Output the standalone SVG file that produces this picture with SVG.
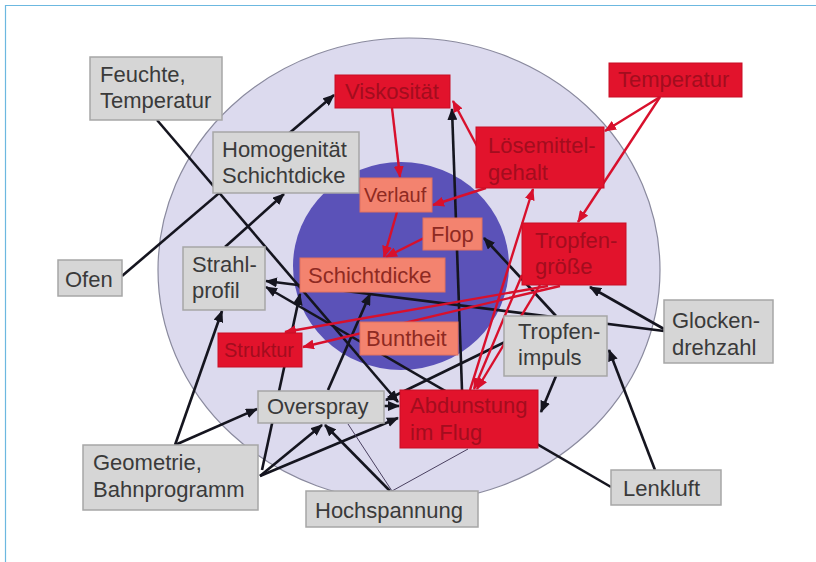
<svg xmlns="http://www.w3.org/2000/svg" width="816" height="562" viewBox="0 0 816 562">
<defs>
<style>
.t{font-family:"Liberation Sans",Arial,sans-serif;font-size:22px}
.g rect{fill:#d6d6d6;stroke:#a6a6a6;stroke-width:1.5}
.g text{fill:#3a3a3a}
.r rect{fill:#e2132c;stroke:#c80f24;stroke-width:1}
.r text{fill:#a30d1e}
.s rect{fill:#f3836f;stroke:#e07060;stroke-width:1}
.s text{fill:#8e2a22}
.b{stroke:#15151f;stroke-width:2.6;fill:none;marker-end:url(#ab)}
.th{stroke:#4a4060;stroke-width:1;fill:none}
.rd{stroke:#d8102c;stroke-width:2.4;fill:none;marker-end:url(#ar)}
</style>
<marker id="ab" viewBox="0 0 12 10" refX="11" refY="5" markerWidth="12" markerHeight="10" markerUnits="userSpaceOnUse" orient="auto"><path d="M0,0 L12,5 L0,10 z" fill="#15151f"/></marker>
<marker id="ar" viewBox="0 0 12 10" refX="11" refY="5" markerWidth="12" markerHeight="10" markerUnits="userSpaceOnUse" orient="auto"><path d="M0,0 L12,5 L0,10 z" fill="#d8102c"/></marker>
</defs>
<rect width="816" height="562" fill="#ffffff"/>
<path d="M5.5,562 V5.5 H816" fill="none" stroke="#6cb8e0" stroke-width="1.2"/>
<ellipse cx="409" cy="270" rx="251" ry="232" fill="#dcdaee" stroke="#8a8a9e" stroke-width="1.2"/>
<ellipse cx="401" cy="266" rx="108" ry="104" fill="#5b52b8"/>

<g id="connectors">
<path class="b" d="M122,276 L334,95"/>
<path class="b" d="M225,247 L284,194"/>
<path class="b" d="M157,120 L398,402"/>
<path class="b" d="M664,331 L266,281"/>
<path class="b" d="M664,329 L590,287"/>
<path class="b" d="M655,470 L609,350"/>
<path class="b" d="M611,487 L266,287"/>
<path class="b" d="M556,376 L541,412"/>
<path class="b" d="M556,316 L484,238"/>
<path class="b" d="M505,342 L386,400"/>
<path class="b" d="M462,390 L452,109"/>
<path class="b" d="M175,445 L222,311"/>
<path class="b" d="M175,445 L257,409"/>
<path class="b" d="M260,476 L322,425"/>
<path class="b" d="M260,476 L398,418"/>
<path class="b" d="M262,470 L300,294"/>
<path class="b" d="M328,390 L370,294"/>
<path class="b" d="M390,491 L325,425"/>
<path class="b" d="M384,406 L399,406"/>
<path class="th" d="M392,491 L468,449"/>
<path class="th" d="M392,491 L348,424"/>
<path class="rd" d="M392,108 L400,177"/>
<path class="rd" d="M478,148 L453,101"/>
<path class="rd" d="M660,97 L605,131"/>
<path class="rd" d="M660,97 L578,222"/>
<path class="rd" d="M486,188 L433,205"/>
<path class="rd" d="M397,212 L384,257"/>
<path class="rd" d="M424,238 L386,257"/>
<path class="rd" d="M470,390 L533,189"/>
<path class="rd" d="M540,285 L477,389"/>
<path class="rd" d="M522,275 L474,389"/>
<path class="rd" d="M548,286 L285,332"/>
<path class="rd" d="M560,286 L303,347"/>
</g>

<g id="n-feuchte" class="g t"><rect x="90" y="57" width="132" height="63"/><text x="100" y="82">Feuchte,</text><text x="100" y="108">Temperatur</text></g>
<g id="n-homogen" class="g t"><rect x="213" y="132" width="146" height="61"/><text x="222" y="157">Homogenität</text><text x="222" y="183">Schichtdicke</text></g>
<g id="n-ofen" class="g t"><rect x="58" y="260" width="64" height="36"/><text x="65" y="287">Ofen</text></g>
<g id="n-strahl" class="g t"><rect x="183" y="247" width="82" height="63"/><text x="192" y="272">Strahl-</text><text x="192" y="298">profil</text></g>
<g id="n-impuls" class="g t"><rect x="504" y="316" width="103" height="60"/><text x="518" y="339">Tropfen-</text><text x="518" y="365">impuls</text></g>
<g id="n-glocke" class="g t"><rect x="664" y="300" width="109" height="63"/><text x="672" y="328">Glocken-</text><text x="672" y="355">drehzahl</text></g>
<g id="n-lenkluft" class="g t"><rect x="611" y="470" width="110" height="35"/><text x="623" y="496">Lenkluft</text></g>
<g id="n-overspray" class="g t"><rect x="258" y="391" width="126" height="32"/><text x="267" y="414">Overspray</text></g>
<g id="n-hochsp" class="g t"><rect x="306" y="491" width="172" height="36"/><text x="315" y="518">Hochspannung</text></g>
<g id="n-geometrie" class="g t"><rect x="83" y="445" width="175" height="65"/><text x="93" y="470">Geometrie,</text><text x="93" y="497">Bahnprogramm</text></g>

<g id="n-viskos" class="r t"><rect x="335" y="75" width="115" height="33"/><text x="345" y="99">Viskosität</text></g>
<g id="n-temp" class="r t"><rect x="609" y="63" width="133" height="34"/><text x="618" y="87">Temperatur</text></g>
<g id="n-loesemittel" class="r t"><rect x="476" y="127" width="128" height="61"/><text x="488" y="153">Lösemittel-</text><text x="488" y="180">gehalt</text></g>
<g id="n-tropfengr" class="r t"><rect x="522" y="223" width="104" height="62"/><text x="535" y="248">Tropfen-</text><text x="535" y="274">größe</text></g>
<g id="n-abdunstung" class="r t"><rect x="400" y="390" width="138" height="58"/><text x="410" y="413">Abdunstung</text><text x="410" y="440">im Flug</text></g>
<g id="n-struktur" class="r t"><rect x="218" y="333" width="84" height="34"/><text x="224" y="357" style="font-size:20px">Struktur</text></g>

<g id="n-verlauf" class="s t"><rect x="360" y="178" width="72" height="34"/><text x="364" y="202" style="font-size:20px">Verlauf</text></g>
<g id="n-flop" class="s t"><rect x="423" y="218" width="59" height="32"/><text x="431" y="242">Flop</text></g>
<g id="n-schicht" class="s t"><rect x="300" y="258" width="145" height="34"/><text x="308" y="283">Schichtdicke</text></g>
<g id="n-bunt" class="s t"><rect x="360" y="322" width="98" height="33"/><text x="366" y="346">Buntheit</text></g>
</svg>
